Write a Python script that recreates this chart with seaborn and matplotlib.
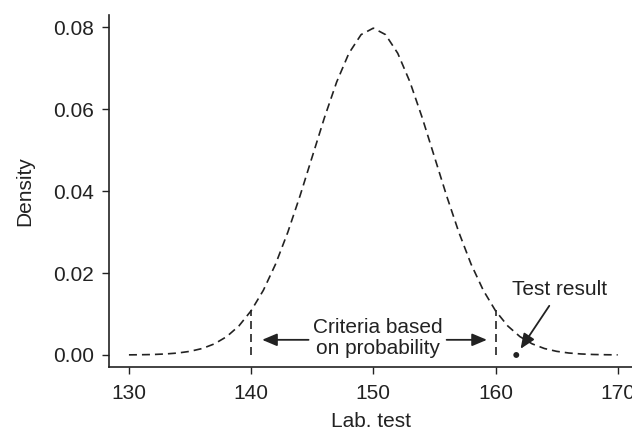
import numpy as np
import pandas as pd
import matplotlib
matplotlib.use("Agg")
import matplotlib.pyplot as plt
import seaborn as sns

# density values at each integer of the lab test
lab_test = list(range(130, 171))
density = [0.00003, 0.00006, 0.00012, 0.00025, 0.00048, 0.00089, 0.00158, 0.00272,
           0.00448, 0.00709, 0.01080, 0.01579, 0.02218, 0.02995, 0.03884, 0.04839,
           0.05794, 0.06664, 0.07365, 0.07821, 0.07979, 0.07821, 0.07365, 0.06664,
           0.05794, 0.04839, 0.03884, 0.02995, 0.02218, 0.01579, 0.01080, 0.00709,
           0.00448, 0.00272, 0.00158, 0.00089, 0.00048, 0.00025, 0.00012, 0.00006,
           0.00003]

cutoffs = [140, 160]
cutoff_heights = [0.0110, 0.0110]
test_result_x = [161.7]
test_result_y = [0.0]

xticks = [130, 140, 150, 160, 170]
yticks = [0.00, 0.02, 0.04, 0.06, 0.08]

df = pd.DataFrame({"Lab. test": lab_test, "Density": density})

sns.set_style("ticks")
plt.rcParams['font.family'] = ['Liberation Sans', 'DejaVu Sans']

ink = "#222222"
dash = (0, (4.8, 3.0))
fig = plt.figure(figsize=(6.32, 4.32), dpi=100)
ax = fig.add_axes([0.1725, 0.1505, 0.83, 0.8148])

sns.lineplot(data=df, x="Lab. test", y="Density", ax=ax, color=ink,
             linewidth=1.2, linestyle=dash)

for cx, ch in zip(cutoffs, cutoff_heights):
    ax.plot([cx, cx], [0, ch], color=ink, linewidth=1.2, linestyle=dash)

sns.scatterplot(x=test_result_x, y=test_result_y, ax=ax, color=ink, s=18,
                edgecolor="none")

arrow_kw = dict(arrowstyle="-|>,head_length=0.9,head_width=0.38", color=ink,
                lw=1.3, shrinkA=0, shrinkB=0)
ax.annotate("", xy=(140.9, 0.0037), xytext=(144.7, 0.0037), arrowprops=arrow_kw)
ax.annotate("", xy=(159.3, 0.0037), xytext=(156.0, 0.0037), arrowprops=arrow_kw)
ax.text(150.35, 0.0041, "Criteria based\non probability", ha="center", va="center",
        fontsize=15, color=ink, linespacing=1.12)

ax.annotate("", xy=(162.05, 0.0015), xytext=(164.4, 0.0120), arrowprops=arrow_kw)
ax.text(165.25, 0.0161, "Test result", ha="center", va="center", fontsize=15,
        color=ink)

ax.set_xlim(128.37, 171.3)
ax.set_ylim(-0.00293, 0.083)
ax.set_xticks(xticks)
ax.set_yticks(yticks)
ax.set_yticklabels([f"{v:.2f}" for v in yticks])
ax.tick_params(labelsize=15, colors=ink, length=5, width=1)
ax.tick_params(axis="y", pad=6)
ax.tick_params(axis="x", pad=7)
ax.set_xlabel("Lab. test", fontsize=15, color=ink, labelpad=7)
ax.set_ylabel("Density", fontsize=15, color=ink, labelpad=13)
for side in ["top", "right"]:
    ax.spines[side].set_visible(False)
for side in ["left", "bottom"]:
    ax.spines[side].set_color(ink)
    ax.spines[side].set_linewidth(1.2)

fig.savefig("out.png", dpi=100)
